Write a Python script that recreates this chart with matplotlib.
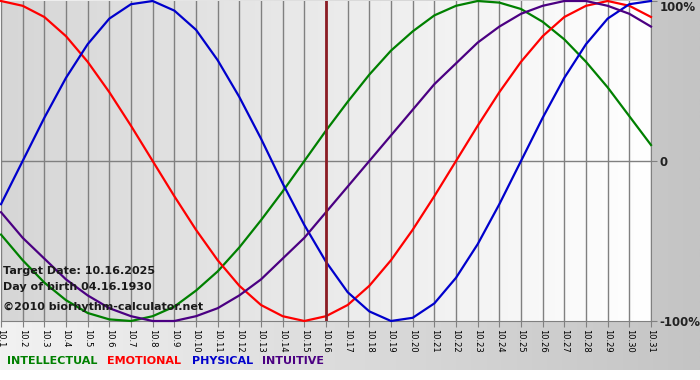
import numpy as np
import matplotlib.pyplot as plt
from matplotlib.colors import LinearSegmentedColormap

# days 10.1 .. 10.31
days = list(range(1, 32))
day_labels = ['10.%d' % d for d in days]

# values (-1 .. 1)
physical = [-0.27, 0.00, 0.27, 0.52, 0.73, 0.89, 0.98, 1.00, 0.94, 0.82, 0.63,
            0.40, 0.14, -0.14, -0.40, -0.63, -0.82, -0.94, -1.00, -0.98, -0.89,
            -0.73, -0.52, -0.27, 0.00, 0.27, 0.52, 0.73, 0.89, 0.98, 1.00]
emotional = [1.00, 0.97, 0.90, 0.78, 0.62, 0.43, 0.22, 0.00, -0.22, -0.43, -0.62,
             -0.78, -0.90, -0.97, -1.00, -0.97, -0.90, -0.78, -0.62, -0.43, -0.22,
             0.00, 0.22, 0.43, 0.62, 0.78, 0.90, 0.97, 1.00, 0.97, 0.90]
intellectual = [-0.46, -0.62, -0.76, -0.87, -0.95, -0.99, -1.00, -0.97, -0.91, -0.81,
                -0.69, -0.54, -0.37, -0.19, 0.00, 0.19, 0.37, 0.54, 0.69, 0.81,
                0.91, 0.97, 1.00, 0.99, 0.95, 0.87, 0.76, 0.62, 0.46, 0.28, 0.10]
intuitive = [-0.32, -0.48, -0.61, -0.74, -0.84, -0.92, -0.97, -1.00, -1.00, -0.97,
             -0.92, -0.84, -0.74, -0.61, -0.48, -0.32, -0.16, 0.00, 0.16, 0.32,
             0.48, 0.61, 0.74, 0.84, 0.92, 0.97, 1.00, 1.00, 0.97, 0.92, 0.84]
target_day = 16

fig = plt.figure(figsize=(7, 3.8), dpi=100)

# background gradient for the whole picture (light left, darker right)
bg = fig.add_axes([0, 10 / 380, 1, 370 / 380], zorder=-10)
grad = np.linspace(0, 1, 256).reshape(1, -1)
bg.imshow(grad, aspect='auto', extent=[0, 1, 0, 1],
          cmap=LinearSegmentedColormap.from_list('bg', ['#f2f2f2', '#c4c4c4']))
bg.set_axis_off()

ax = fig.add_axes([1 / 700, 1 - 321 / 380, 650 / 700, 320 / 380])
ax.set_xlim(1, 31)
ax.set_ylim(-1, 1)
ax.imshow(grad, aspect='auto', extent=[1, 31, -1, 1], zorder=0,
          cmap=LinearSegmentedColormap.from_list('pl', ['#d6d6d6', '#ffffff']))

for d in days:
    ax.axvline(d, color='#808080', lw=1, zorder=1)
ax.axhline(0, color='#808080', lw=1, zorder=1)

ax.plot(days, intellectual, color='#008000', lw=1.6, zorder=3, clip_on=False)
ax.plot(days, emotional, color='#ff0000', lw=1.6, zorder=3, clip_on=False)
ax.plot(days, physical, color='#0000cc', lw=1.6, zorder=3, clip_on=False)
ax.plot(days, intuitive, color='#4b0082', lw=1.6, zorder=3, clip_on=False)

ax.axvline(target_day, color='#8b1c24', lw=2, zorder=4)

for s in ['top', 'left']:
    ax.spines[s].set_visible(False)
ax.spines['bottom'].set_color('#808080')
ax.spines['right'].set_color('#808080')

ax.set_xticks(days)
ax.set_xticklabels(day_labels, rotation=270, fontsize=6)
ax.tick_params(axis='x', length=4, color='#808080', pad=2)
ax.yaxis.tick_right()
ax.set_yticks([1, 0, -1])
ax.set_yticklabels(['100%', '0', '-100%'], fontsize=8.5, fontweight='bold', color='#222222')
ax.get_yticklabels()[0].set_va('top')
ax.tick_params(axis='y', length=4, color='#808080', pad=2)

tk = dict(fontsize=8, fontweight='bold', color='#1a1a1a')
fig.text(3 / 700, 1 - 271 / 380, 'Target Date: 10.16.2025', va='center', **tk)
fig.text(3 / 700, 1 - 287 / 380, 'Day of birth 04.16.1930', va='center', **tk)
fig.text(3 / 700, 1 - 307 / 380, '\u00a92010 biorhythm-calculator.net', va='center', **tk)

lg = dict(fontsize=8, fontweight='bold', va='center')
fig.text(7 / 700, 1 - 361 / 380, 'INTELLECTUAL', color='#008000', **lg)
fig.text(107 / 700, 1 - 361 / 380, 'EMOTIONAL', color='#ff0000', **lg)
fig.text(192 / 700, 1 - 361 / 380, 'PHYSICAL', color='#0000cc', **lg)
fig.text(262 / 700, 1 - 361 / 380, 'INTUITIVE', color='#4b0082', **lg)

fig.savefig('out.png', dpi=100)
